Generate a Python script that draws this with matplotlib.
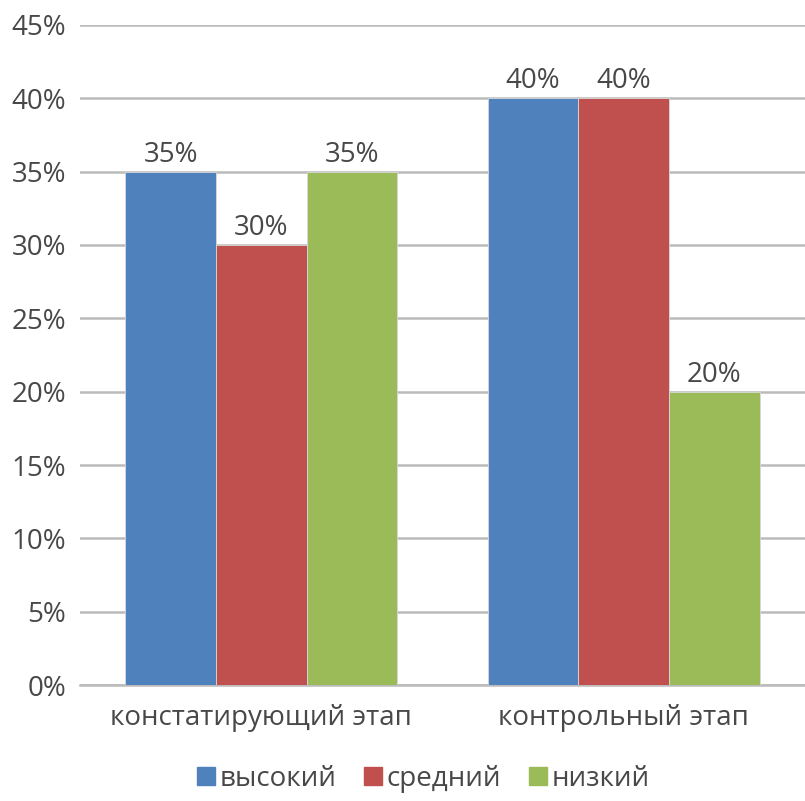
import matplotlib
matplotlib.use("Agg")
import matplotlib.pyplot as plt
import numpy as np
from matplotlib.ticker import FuncFormatter

categories = ["констатирующий этап", "контрольный этап"]
series_names = ["высокий", "средний", "низкий"]
vysokiy = [35, 40]
sredniy = [30, 40]
nizkiy = [35, 20]
yticks = [0, 5, 10, 15, 20, 25, 30, 35, 40, 45]

colors = ["#4F81BD", "#C0504D", "#9BBB59"]
text_color = "#484848"

plt.rcParams["font.family"] = ["Open Sans", "DejaVu Sans"]

fig = plt.figure(figsize=(8.05, 8.01), dpi=100)
ax = fig.add_axes([0.0994, 0.1448, 0.9006, 0.824])

x = np.arange(len(categories))
width = 0.25
for i, (name, vals) in enumerate(zip(series_names, [vysokiy, sredniy, nizkiy])):
    bars = ax.bar(x + (i - 1) * width, vals, width, color=colors[i], label=name,
                  edgecolor="#D9D9D9", linewidth=0.6, zorder=3)
    for b, v in zip(bars, vals):
        ax.text(b.get_x() + b.get_width() / 2, v + 0.2, f"{v}%", ha="center",
                va="bottom", fontsize=20, color=text_color)

ax.set_xlim(-0.5, 1.5)
ax.set_ylim(0, 45)
ax.set_yticks(yticks)
ax.yaxis.set_major_formatter(FuncFormatter(lambda v, p: f"{v:.0f}%"))
ax.grid(axis="y", color="#BBBBBB", linewidth=1.8, zorder=0)
ax.set_xticks(x)
ax.set_xticklabels(categories)
ax.tick_params(axis="both", length=0, labelsize=20, colors=text_color)
ax.tick_params(axis="y", pad=10)
ax.tick_params(axis="x", pad=14)
for s in ["top", "right", "left"]:
    ax.spines[s].set_visible(False)
ax.spines["bottom"].set_color("#BBBBBB")
ax.spines["bottom"].set_linewidth(1.8)

handles = [plt.Line2D([], [], marker="s", linestyle="", markersize=13,
                      markerfacecolor=c, markeredgecolor=c) for c in colors]
fig.legend(handles, series_names, loc="center", bbox_to_anchor=(0.5255, 0.028),
           ncol=3, frameon=False, fontsize=20, handlelength=0.7,
           handletextpad=0.15, columnspacing=0.95, labelcolor=text_color)

fig.savefig("out.png", dpi=100)
